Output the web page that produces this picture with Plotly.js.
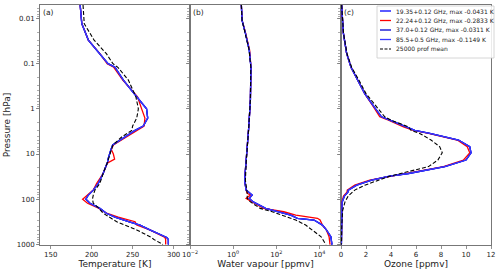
<!DOCTYPE html>
<html>
<head>
<meta charset="utf-8">
<script src="https://cdn.plot.ly/plotly-3.0.1.min.js"></script>
<style>
html,body{margin:0;padding:0;background:#fff;}
#chart{width:500px;height:275px;}
</style>
</head>
<body>
<div id="chart"></div>
<script>
// ---------- data ----------
const channelNames = ["19.35+0.12 GHz, max -0.0431 K", "22.24+0.12 GHz, max -0.2833 K",
                      "37.0+0.12 GHz, max -0.0311 K", "85.5+0.5 GHz, max -0.1149 K", "25000 prof mean"];

// Temperature panel
const pressureT = [0.005, 0.01, 0.013, 0.03, 0.06, 0.1, 0.12, 0.23, 0.54, 1, 1.6, 2.4, 3, 4.2, 6.3, 8, 10, 13, 15, 16,
                   27, 45, 63, 81, 100, 123, 160, 205, 250, 316, 375, 480, 705, 780, 1013];
const tempBlue = [186, 187, 188, 196, 210, 220, 228.5, 238.7, 255, 267, 268.4, 263, 253, 240.5, 225.7, 223.5, 221.5, 220, 219.5, 219,
                  214, 208, 202, 196, 193, 198, 210, 218, 228.5, 245, 259, 271, 291.6, 293.6, 293.6];
const tempRed  = [186, 187, 188, 196, 210, 219, 227, 238, 256, 261, 265, 264, 255, 242.7, 226.5, 224, 226.5, 228, 221, 219,
                  214, 206, 202, 195, 189, 195, 209, 218, 232.5, 253, 255, 271, 289.5, 290.3, 290.3];
const tempMean = [189.5, 190, 191, 203, 218, 226, 232, 244.8, 254, 257, 255, 250, 249, 236.6, 226, 224, 222, 220.5, 219.5, 219,
                  214, 210, 204, 202, 201, 202, 209, 214, 221.5, 230.6, 240.7, 255, 273, 276, 287];

// Water vapour panel
const pressureQ = [0.005, 0.011, 0.021, 0.05, 0.12, 0.64, 2.5, 4.9, 6.9, 16, 38, 63, 74, 81, 96, 115, 160, 190, 225, 265,
                   290, 375, 480, 680, 1013];
const wvBlue = [2.4, 2.6, 3.7, 5.6, 6.7, 6.3, 5.3, 4.7, 4.5, 3.8, 3.4, 4.0, 6.3, 7.6, 5.6, 8.5, 32, 130, 470, 950,
                5600, 13800, 21000, 34000, 38000];
const wvRed  = [2.4, 2.6, 3.8, 5.8, 6.7, 6.3, 5.3, 4.7, 4.5, 3.8, 3.4, 4.0, 4.5, 6.3, 4.0, 7.6, 26, 224, 800, 8100,
                10700, 13800, 21000, 28000, 31000];
const wvMean = [2.4, 2.6, 3.6, 5.5, 6.6, 6.3, 5.3, 4.7, 4.6, 4.0, 3.7, 4.5, 4.5, 4.5, 4.5, 6.3, 18, 65, 190, 470,
                800, 2300, 4800, 12000, 20000];

// Ozone panel
const pressureO = [0.005, 0.011, 0.021, 0.059, 0.12, 0.23, 0.46, 0.9, 1.5, 1.78, 2.5, 3, 3.5, 4.9, 6.9, 9.4, 13.6, 19, 27, 31,
                   38, 49, 63, 70, 85, 115, 180, 400, 1013];
const ozBlue = [0.05, 0.1, 0.19, 0.45, 0.8, 1.33, 1.9, 2.65, 3.24, 3.9, 5.2, 5.9, 7.1, 9.4, 10.3, 10.4, 10.0, 8.3, 5.4, 3.9,
                2.45, 1.25, 0.58, 0.55, 0.27, 0.1, 0.07, 0.04, 0.03];
const ozRed  = [0.05, 0.1, 0.19, 0.45, 0.8, 1.33, 1.9, 2.6, 3.1, 3.8, 5.0, 5.8, 7.0, 9.3, 10.1, 10.3, 9.8, 8.2, 5.2, 3.9,
                2.3, 1.1, 0.5, 0.48, 0.2, 0.08, 0.06, 0.04, 0.03];
const ozMean = [0.05, 0.1, 0.2, 0.47, 0.85, 1.43, 2.0, 2.85, 3.5, 4.0, 5.4, 5.6, 6.3, 7.2, 7.9, 8.1, 7.75, 7.0, 4.8, 3.9,
                3.0, 1.9, 1.1, 0.9, 0.58, 0.32, 0.13, 0.06, 0.04];

const pressureTicks = [0.01, 0.1, 1, 10, 100, 1000];
const pressureTickText = ["0.01", "0.1", "1", "10", "100", "1000"];
const tempTicks = [150, 200, 250, 300];
const wvTicks = [0.01, 1, 100, 10000];
const wvTickText = ["10<sup>\u22122</sup>", "10<sup>0</sup>", "10<sup>2</sup>", "10<sup>4</sup>"];
const ozTicks = [0, 2, 4, 6, 8, 10, 12];
const panelLabels = ["(a)", "(b)", "(c)"];

// ---------- styling ----------
const colors = ["#0000ff", "#ff0000", "#0000d0", "#3a3aff", "#000000"];
const dashes = ["solid", "solid", "solid", "solid", "4px,2px"];
const widths = [1.3, 1.3, 1.3, 1.3, 1.1];

const panels = [
  {p: pressureT, series: [tempBlue, tempRed, tempBlue, tempBlue, tempMean], xa: "x", ya: "y"},
  {p: pressureQ, series: [wvBlue, wvRed, wvBlue, wvBlue, wvMean], xa: "x2", ya: "y2"},
  {p: pressureO, series: [ozBlue, ozRed, ozBlue, ozBlue, ozMean], xa: "x3", ya: "y3"}
];

const traces = [];
panels.forEach(pn => {
  pn.series.forEach((s, i) => {
    traces.push({
      type: "scatter", mode: "lines", x: s, y: pn.p, xaxis: pn.xa, yaxis: pn.ya,
      name: channelNames[i], showlegend: false, hoverinfo: "skip",
      line: {color: colors[i], width: widths[i], dash: dashes[i]}
    });
  });
});

const font = {family: "DejaVu Sans, sans-serif", color: "#222"};
const lineColor = "#777";
const tickFont = {family: font.family, size: 7, color: "#222"};
const titleFont = {family: font.family, size: 9, color: "#222"};

const yRange = [3.015, -2.30];
function yAxis(anchor, showLabels, withTitle) {
  const a = {
    type: "log", range: yRange, domain: [0, 1], anchor: anchor,
    tickmode: "array", tickvals: pressureTicks, ticktext: pressureTickText,
    showticklabels: showLabels, ticks: "outside", ticklen: 3, tickwidth: 0.8, tickcolor: lineColor,
    minor: {ticks: "outside", ticklen: 1.6, tickwidth: 0.6, tickcolor: lineColor, dtick: "D1", showgrid: false},
    showline: true, mirror: true, linecolor: lineColor, linewidth: 1,
    showgrid: false, zeroline: false, tickfont: tickFont, automargin: false
  };
  if (withTitle) a.title = {text: "Pressure [hPa]", font: titleFont, standoff: 4};
  return a;
}
function xAxis(anchor, domain, extra, title) {
  return Object.assign({
    domain: domain, anchor: anchor, ticks: "outside", ticklen: 3, tickwidth: 0.8, tickcolor: lineColor,
    showline: true, mirror: true, linecolor: lineColor, linewidth: 1,
    showgrid: false, zeroline: false, tickfont: tickFont, automargin: false,
    title: {text: title, font: titleFont, standoff: 2}
  }, extra);
}

const L = 40, R = 491, T = 5, B = 245;
const W = R - L, H = B - T;
const px = v => (v - L) / W;
const py = v => (B - v) / H;
const d1 = px(190), d2 = px(341);

const shapes = [];
const annotations = [];
// panel labels
[40, 190, 341].forEach((x0, i) => {
  annotations.push({xref: "paper", yref: "paper", x: px(x0 + 1), y: py(12), xanchor: "left", yanchor: "middle",
    text: panelLabels[i], showarrow: false, font: {family: font.family, size: 7.5, color: "#222"}});
});
// legend box
shapes.push({type: "rect", xref: "paper", yref: "paper", x0: px(377), x1: px(494), y0: py(58), y1: py(6),
  line: {color: "#cccccc", width: 0.8}, fillcolor: "rgba(255,255,255,0.85)", layer: "above"});
const rowY = [11, 20.5, 30, 39.5, 49];
channelNames.forEach((nm, i) => {
  shapes.push({type: "line", xref: "paper", yref: "paper", x0: px(380), x1: px(391), y0: py(rowY[i]), y1: py(rowY[i]),
    line: {color: colors[i], width: widths[i], dash: i === 4 ? "3px,1.5px" : "solid"}, layer: "above"});
  annotations.push({xref: "paper", yref: "paper", x: px(393.5), y: py(rowY[i]), xanchor: "left", yanchor: "middle",
    text: nm, showarrow: false, font: {family: font.family, size: 6, color: "#222"}});
});

const layout = {
  width: 500, height: 275,
  margin: {l: L, r: 500 - R, t: T, b: 275 - B, pad: 0},
  paper_bgcolor: "#fff", plot_bgcolor: "#fff",
  font: font, showlegend: false,
  xaxis: xAxis("y", [0, d1], {range: [137, 320], tickmode: "array", tickvals: tempTicks}, "Temperature [K]"),
  xaxis2: xAxis("y2", [d1, d2], {type: "log", range: [-2, 5], tickmode: "array", tickvals: wvTicks, ticktext: wvTickText}, "Water vapour [ppmv]"),
  xaxis3: xAxis("y3", [d2, 1], {range: [0, 12], tickmode: "array", tickvals: ozTicks}, "Ozone [ppmv]"),
  yaxis: yAxis("x", true, true),
  yaxis2: yAxis("x2", false, false),
  yaxis3: yAxis("x3", false, false),
  shapes: shapes,
  annotations: annotations
};

Plotly.newPlot("chart", traces, layout, {staticPlot: true, displayModeBar: false});
</script>
</body>
</html>
